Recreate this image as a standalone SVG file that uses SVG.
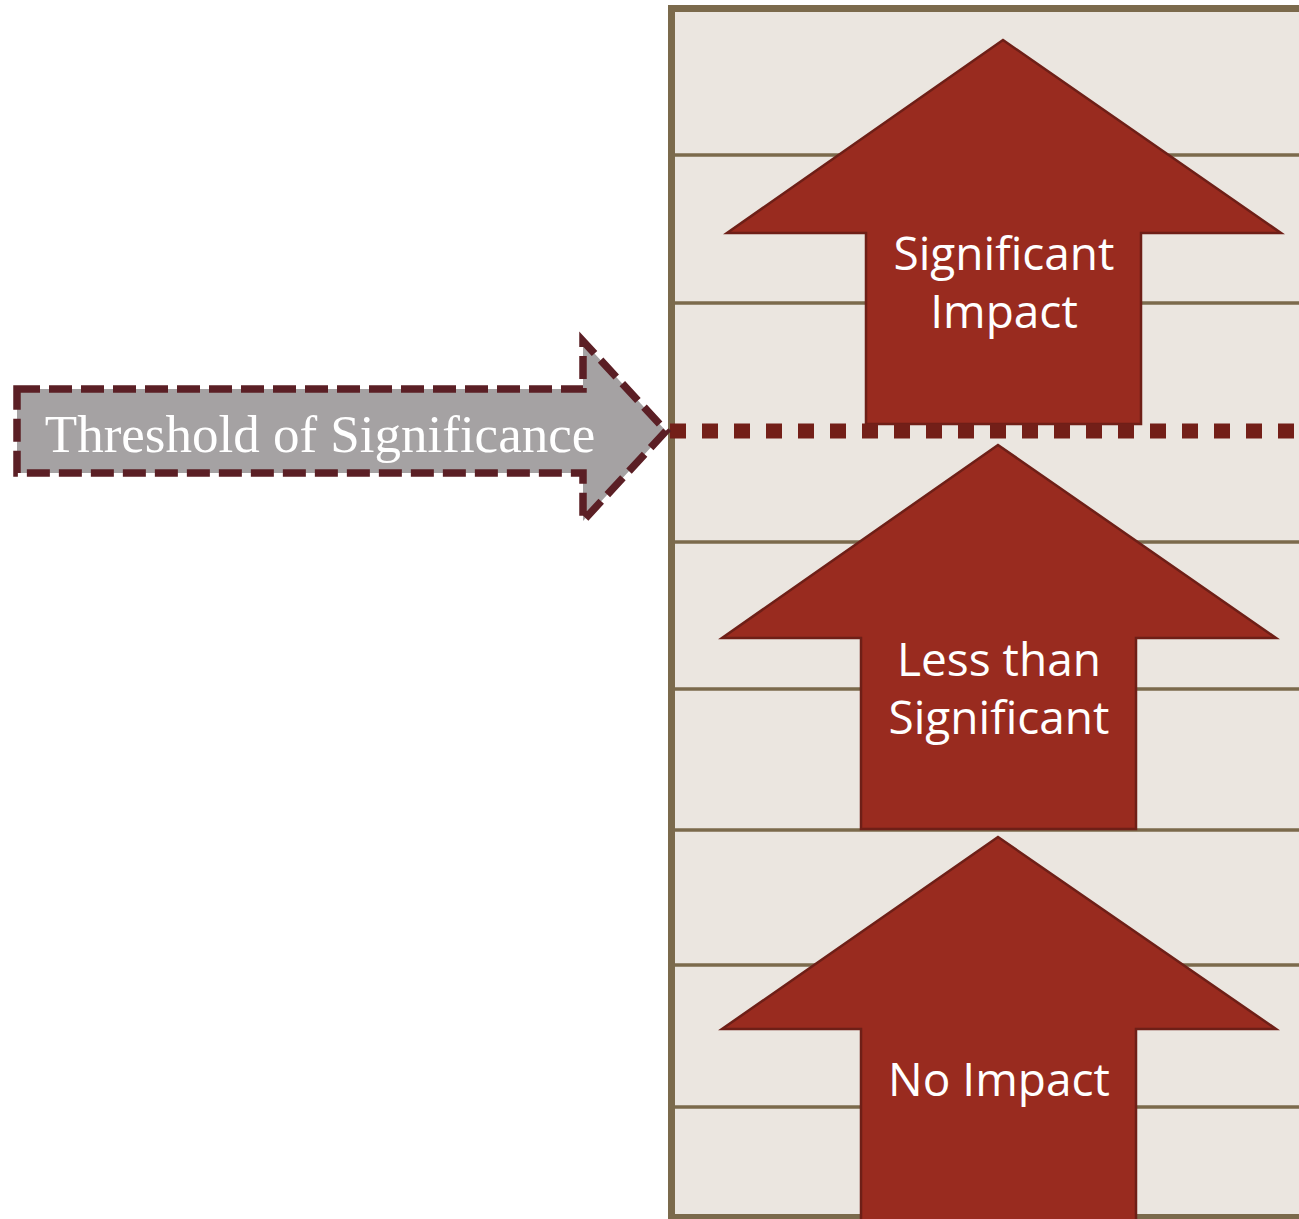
<svg xmlns="http://www.w3.org/2000/svg" width="1299" height="1219" viewBox="0 0 1299 1219">
  <defs>
    <style>
      .panel { fill: #EBE6E0; stroke: #7B6A4C; stroke-width: 7; }
      .rule { stroke: #7B6A4C; stroke-width: 3.5; fill: none; }
      .impact { fill: #992B1F; stroke: #6E1F17; stroke-width: 2.5; stroke-linejoin: miter; }
      .impact-label { fill: #FFFFFF; font-family: "Open Sans", "Noto Sans", "DejaVu Sans", sans-serif; font-size: 46px; text-anchor: middle; }
      .threshold-line { stroke: #731F18; stroke-width: 15; stroke-dasharray: 16 16; fill: none; }
      .threshold-arrow { fill: #A5A2A3; stroke: #5B1F25; stroke-width: 7.5; stroke-dasharray: 23 9; stroke-linejoin: miter; }
      .threshold-label { fill: #FFFFFF; font-family: "Liberation Serif", "DejaVu Serif", serif; font-size: 53px; text-anchor: middle; }
    </style>
  </defs>

  <rect width="1299" height="1219" fill="#FFFFFF"/>

  <!-- scale panel with row rules -->
  <g id="scale-panel">
    <rect class="panel" x="671.5" y="8.5" width="700" height="1209"/>
    <line class="rule" x1="675" y1="155" x2="1299" y2="155"/>
    <line class="rule" x1="675" y1="303" x2="1299" y2="303"/>
    <line class="rule" x1="675" y1="542" x2="1299" y2="542"/>
    <line class="rule" x1="675" y1="689" x2="1299" y2="689"/>
    <line class="rule" x1="675" y1="830" x2="1299" y2="830"/>
    <line class="rule" x1="675" y1="965" x2="1299" y2="965"/>
    <line class="rule" x1="675" y1="1107" x2="1299" y2="1107"/>
  </g>

  <!-- impact levels -->
  <g id="significant-impact">
    <polygon class="impact" points="1003,40 1281,233 1141,233 1141,424 866,424 866,233 727,233"/>
    <text class="impact-label" x="1004" y="270">Significant</text>
    <text class="impact-label" x="1004" y="328">Impact</text>
  </g>

  <g id="less-than-significant">
    <polygon class="impact" points="998,445 1276,638 1136,638 1136,829 861,829 861,638 722,638"/>
    <text class="impact-label" x="999" y="676">Less than</text>
    <text class="impact-label" x="999" y="734">Significant</text>
  </g>

  <g id="no-impact">
    <polygon class="impact" points="998,837 1276,1029 1136,1029 1136,1240 861,1240 861,1029 722,1029"/>
    <text class="impact-label" x="999" y="1096">No Impact</text>
  </g>

  <!-- threshold marker and its pointer -->
  <g id="connectors">
    <line class="threshold-line" x1="670" y1="431" x2="1299" y2="431"/>
  </g>

  <g id="threshold-of-significance">
    <polygon class="threshold-arrow" points="17,389 583,389 583,341 666,431 583,521 583,473 17,473"/>
    <text class="threshold-label" x="320" y="452">Threshold of Significance</text>
  </g>
</svg>
